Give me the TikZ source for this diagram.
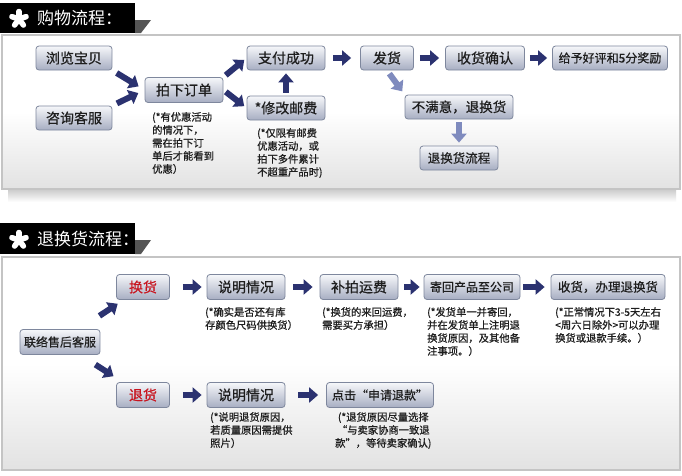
\documentclass[tikz,border=0pt]{standalone}
\usepackage{fontspec}
\setmainfont{Noto Sans CJK SC}
\newfontfamily\boxfont{Noto Sans CJK SC}[FakeBold=0.6]
\newfontfamily\notefont{Noto Sans CJK SC}[FakeBold=0.8]
\usetikzlibrary{arrows.meta,calc}
\definecolor{navy}{HTML}{2B3270}
\definecolor{lightnavy}{HTML}{7F8BBE}
\definecolor{boxtop}{HTML}{F6F7FA}
\definecolor{boxbot}{HTML}{A7AEC2}
\definecolor{boxline}{HTML}{7E879D}
\definecolor{panelline}{HTML}{C4C4C4}
\definecolor{panelbot}{HTML}{E2E2E2}
\definecolor{tabgrey}{HTML}{555555}
\definecolor{txt}{HTML}{1E1E1E}
\definecolor{redtxt}{HTML}{C8141E}
\tikzset{
  box/.style={draw=boxline, line width=0.8pt, rounded corners=3pt,
    top color=boxtop, bottom color=boxbot, inner sep=0pt,
    minimum height=24pt, text=txt, font=\boxfont\fontsize{14}{14}\selectfont},
  smallbox/.style={box, font=\boxfont\fontsize{12}{12}\selectfont},
  note/.style={anchor=north west, inner sep=0pt, align=left, text=txt,
    font=\notefont\fontsize{10.3}{13}\selectfont},
  bigarrow/.style={navy, line width=6pt, -{Triangle[length=9pt,width=15pt]}},
  lightarrow/.style={lightnavy, line width=6pt, -{Triangle[length=9pt,width=15pt]}},
  panel/.style={draw=panelline, line width=1.5pt, top color=white, bottom color=panelbot, middle color=white},
  title/.style={text=white, anchor=west, inner sep=0pt, font=\fontsize{17}{17}\selectfont}
}
\newcommand{\mystar}[1]{%
  \foreach \a in {90,162,234,306,18}{
    \draw[white, line width=5.5pt, line cap=round] (#1) -- ++(\a:7.5pt);
  }}
\begin{document}
\begin{tikzpicture}[x=1pt,y=-1pt]
\useasboundingbox (0,0) rectangle (682,475);
\fill[white] (0,0) rectangle (682,475);

% ---------- section 1 ----------
\shade[top color=gray!45, bottom color=white] (8,188) rectangle (676,202);
\path[panel] (2,35) rectangle (680,189);
\fill[black] (0,3) rectangle (135,33);
\fill[tabgrey] (135,20) -- (151,20) -- (141,33) -- (135,33) -- cycle;
\coordinate (s1) at (19,19);
\mystar{s1}
\node[title] (t1) at (37,18) {购物流程：};

\node[box, minimum width=76pt] (browse) at (74,58) {浏览宝贝};
\node[box, minimum width=76pt] (consult) at (74,118) {咨询客服};
\node[box, minimum width=78pt, minimum height=25pt] (order) at (184,90) {拍下订单};
\node[box, minimum width=78pt] (pay) at (286,58) {支付成功};
\node[box, minimum width=78pt] (fee) at (286,108) {*修改邮费};
\node[box, minimum width=53pt] (ship) at (387,58) {发货};
\node[box, minimum width=79pt] (recv) at (485,58) {收货确认};
\node[smallbox, minimum width=115pt] (praise) at (610,58) {给予好评和5分奖励};
\node[box, minimum width=108pt, font=\boxfont\fontsize{13.5}{13.5}\selectfont] (unhappy) at (459,107) {不满意，退换货};
\node[box, minimum width=78pt, font=\boxfont\fontsize{12.5}{12.5}\selectfont] (retflow) at (459,158) {退换货流程};

\node[note] (n1) at (152,112) {(*有优惠活动\\的情况下，\\需在拍下订\\单后才能看到\\优惠）};
\node[note] (n2) at (257,128) {(*仅限有邮费\\优惠活动，或\\拍下多件累计\\不超重产品时)};

\draw[bigarrow, shorten <=5pt, shorten >=7pt] (browse.south east) -- (order.west);
\draw[bigarrow, shorten <=5pt, shorten >=7pt] (consult.north east) -- (order.west);
\draw[bigarrow, shorten <=3pt, shorten >=3pt] (order.north east) -- (pay.west);
\draw[bigarrow, shorten <=3pt, shorten >=3pt] (order.east) -- (fee.west);
\draw[bigarrow, shorten <=3pt, shorten >=3pt] (fee.north) -- (pay.south);
\draw[bigarrow, shorten <=8pt, shorten >=9pt] (pay.east) -- (ship.west);
\draw[bigarrow, shorten <=6pt, shorten >=6pt] (ship.east) -- (recv.west);
\draw[bigarrow, shorten <=5pt, shorten >=5pt] (recv.east) -- (praise.west);
\draw[lightarrow, shorten <=4pt, shorten >=4pt] (ship.south) -- (unhappy.north west);
\draw[lightarrow, shorten <=3pt, shorten >=3pt] (unhappy.south) -- (retflow.north);

% ---------- section 2 ----------
\path[panel] (2,257) rectangle (680,470);
\fill[black] (0,223) rectangle (135,254);
\fill[tabgrey] (135,240) -- (151,240) -- (141,254) -- (135,254) -- cycle;
\coordinate (s2) at (19,240);
\mystar{s2}
\node[title] (t2) at (37,239) {退换货流程：};

\node[box, minimum width=53pt, minimum height=25pt, text=redtxt] (exch) at (143,287) {换货};
\node[box, minimum width=53pt, minimum height=25pt, text=redtxt] (refund) at (143,395) {退货};
\node[smallbox, minimum width=80pt, minimum height=25pt] (contact) at (60,342) {联络售后客服};
\node[box, minimum width=78pt, minimum height=25pt] (explA) at (246,287) {说明情况};
\node[box, minimum width=78pt, minimum height=25pt] (postage) at (359,287) {补拍运费};
\node[smallbox, minimum width=96pt, minimum height=25pt] (sendback) at (472,287) {寄回产品至公司};
\node[smallbox, minimum width=114pt, minimum height=25pt, font=\boxfont\fontsize{12.5}{12.5}\selectfont] (handle) at (608,287) {收货，办理退换货};
\node[box, minimum width=78pt, minimum height=25pt] (explB) at (246,395) {说明情况};
\node[smallbox, minimum width=107pt, minimum height=25pt] (apply) at (380,395) {点击“申请退款”};

\node[note] (n3) at (205,307) {(*确实是否还有库\\存颜色尺码供换货）};
\node[note] (n4) at (322,307) {(*换货的来回运费，\\需要买方承担）};
\node[note] (n5) at (427,307) {(*发货单一并寄回，\\并在发货单上注明退\\换货原因，及其他备\\注事项。）};
\node[note] (n6) at (555,307) {(*正常情况下3-5天左右\\<周六日除外>可以办理\\换货或退款手续。）};
\node[note] (n7) at (210,412) {(*说明退货原因，\\若质量原因需提供\\照片）};
\node[note, align=center] (n8) at (335,412) {(*退货原因尽量选择\\“与卖家协商一致退\\款”，等待卖家确认)};

\draw[bigarrow, shorten <=24pt, shorten >=7pt] (contact) -- (exch);
\draw[bigarrow, shorten <=18pt, shorten >=11pt] (contact) -- (refund);
\draw[bigarrow, shorten <=13pt, shorten >=5pt] (exch.east) -- (explA.west);
\draw[bigarrow, shorten <=8pt, shorten >=7pt] (explA.east) -- (postage.west);
\draw[bigarrow, shorten <=6pt, shorten >=4pt] (postage.east) -- (sendback.west);
\draw[bigarrow, shorten <=3pt, shorten >=6pt] (sendback.east) -- (handle.west);
\draw[bigarrow, shorten <=13pt, shorten >=5pt] (refund.east) -- (explB.west);
\draw[bigarrow, shorten <=13pt, shorten >=8pt] (explB.east) -- (apply.west);
\end{tikzpicture}
\end{document}
